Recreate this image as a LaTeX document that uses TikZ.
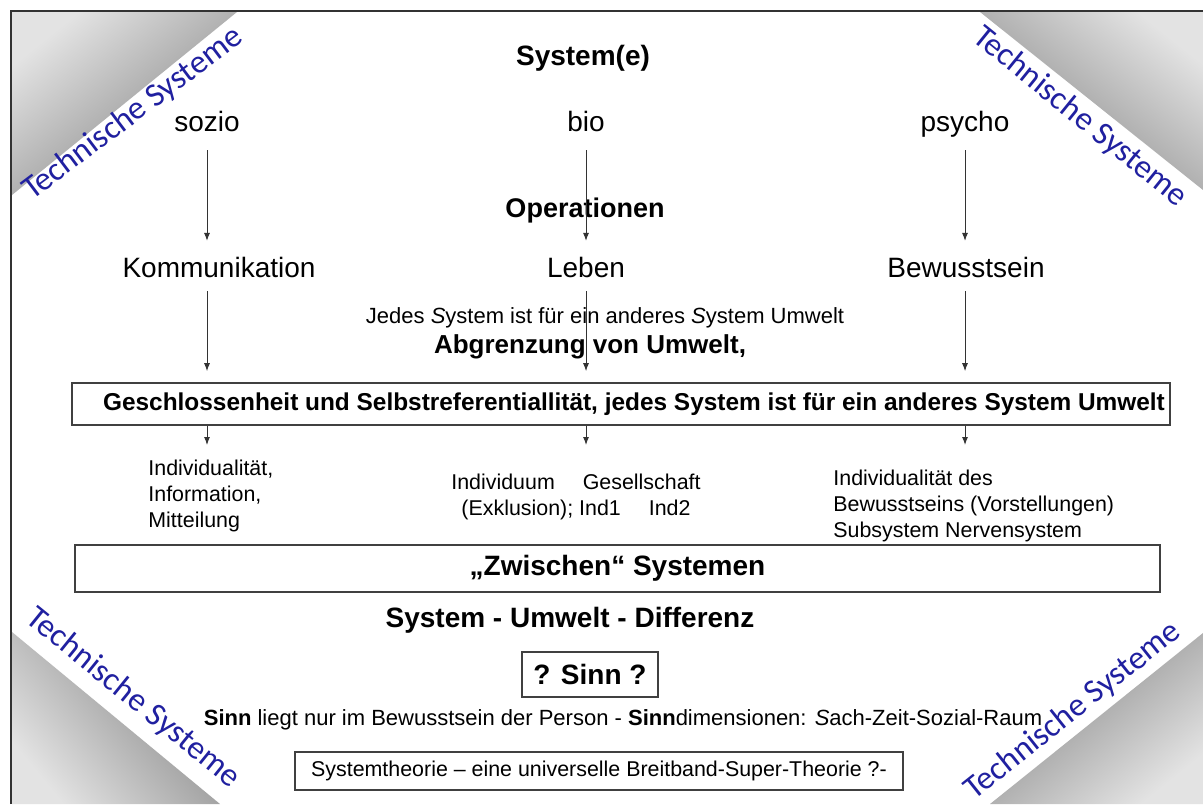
\documentclass[tikz,border=0pt]{standalone}
\usepackage{fontspec}
\setmainfont{Liberation Sans}
\newfontfamily\techfont{Carlito}
\usetikzlibrary{arrows.meta}
\definecolor{techblue}{RGB}{32,32,160}
\tikzset{
	colhead/.style={font=\fontsize{14}{16}\selectfont, text height=10pt, text depth=3pt},
	boldhead/.style={font=\fontsize{14}{16}\selectfont\bfseries},
	smalltext/.style={font=\fontsize{10.7}{13}\selectfont, inner sep=0pt},
	framebox/.style={draw=black!75, line width=0.8pt, fill=white},
	techlabel/.style={font=\fontsize{16.5}{18}\selectfont\techfont, text=techblue},
	conn/.style={->, draw=black!80, line width=0.5pt}
}
\begin{document}
\begin{tikzpicture}[x=0.5pt,y=-0.5pt,>={Latex[length=4pt,width=3pt]}]
	\def \colA {207}
	\def \colB {586}
	\def \colC {965}
	\useasboundingbox (0,0) rectangle (1203,804);
	\fill[white] (0,0) rectangle (1203,804);
	
	% shaded corners
	\foreach \cx/\cy/\ax/\ay/\bx/\by/\ang in {12/12/237/12/12/195/39, 1203/12/980/12/1203/190/-38.6, 12/804/12/632/220/804/129.6, 1203/804/1203/633/990/804/-141.2}
	{
		\shade[top color=gray!22, middle color=gray!100, bottom color=gray!100, shading angle=\ang] (\cx,\cy) -- (\ax,\ay) -- (\bx,\by) -- cycle;
	}
	\draw[line width=1pt, black!80] (11,804) -- (11,11) -- (1203,11);
	
	\node[techlabel, rotate=37] (tsA) at (133,114) {Technische Systeme};
	\node[techlabel, rotate=-39] (tsB) at (1080,117) {Technische Systeme};
	\node[techlabel, rotate=-39] (tsC) at (133,698) {Technische Systeme};
	\node[techlabel, rotate=38.5] (tsD) at (1073,711) {Technische Systeme};
	
	% systems and operations
	\node[boldhead] (sys) at (583,58) {System(e)};
	\node[colhead] (sozio) at (\colA,124) {sozio};
	\node[colhead] (bio) at (\colB,124) {bio};
	\node[colhead] (psycho) at (\colC,124) {psycho};
	\node[boldhead, font=\fontsize{13.5}{16}\selectfont\bfseries] (oper) at (585,211) {Operationen};
	\node[colhead] (komm) at (219,270) {Kommunikation};
	\node[colhead] (leben) at (\colB,270) {Leben};
	\node[colhead] (bewusst) at (966,270) {Bewusstsein};
	\node[font=\fontsize{11}{13}\selectfont] (jedes) at (605,318) {Jedes \textit{S}ystem ist für ein anderes \textit{S}ystem Umwelt};
	\node[font=\fontsize{13}{15}\selectfont\bfseries] (abgr) at (590,347) {Abgrenzung von Umwelt,};
	\node[framebox, minimum width=549pt, minimum height=21pt, inner sep=1pt, font=\fontsize{12.2}{14}\selectfont\bfseries] (geschl) at (621,404) {\hspace*{13pt}Geschlossenheit und Selbstreferentiallität, jedes System ist für ein anderes System Umwelt};
	
	\node[smalltext, anchor=west, align=left] (indivA) at (148,496) {Individualität,\\Information,\\Mitteilung};
	\node[smalltext, align=center] (indivB) at (576,497) {Individuum\hspace{14pt}Gesellschaft\\(Exklusion); Ind1\hspace{14pt}Ind2};
	\node[smalltext, anchor=west, align=left] (indivC) at (833,506) {Individualität des\\Bewusstseins (Vorstellungen)\\Subsystem Nervensystem};
	\coordinate (below) at (0,445);
	
	\foreach \top/\mid/\bot in {sozio/komm/indivA, bio/leben/indivB, psycho/bewusst/indivC}
	{
		\draw[conn, shorten <=3pt, shorten >=4.5pt] (\top.south) -- (\top |- \mid.north);
		\draw[conn, shorten <=0.5pt, shorten >=5.5pt] (\top |- \mid.south) -- (\top |- geschl.north);
		\draw[conn] (\top |- geschl.south) -- (\top |- below);
	}
	
	% lower part
	\node[framebox, boldhead, minimum width=542.5pt, minimum height=23.5pt] (zwischen) at (617.5,568.5) {„Zwischen“ Systemen};
	\node[boldhead] (diff) at (570,620) {System - Umwelt - Differenz};
	\node[framebox, boldhead, minimum width=68pt, minimum height=22.5pt] (sinn) at (590,674.5) {? Sinn ?};
	\node[font=\fontsize{11}{13}\selectfont] (sinnline) at (623,720) {\textbf{Sinn} liegt nur im Bewusstsein der Person - \textbf{Sinn}dimensionen: \textit{S}ach-Zeit-Sozial-Raum};
	\node[framebox, minimum width=304pt, minimum height=19pt, font=\fontsize{10.7}{12}\selectfont] (theorie) at (599,771) {Systemtheorie – eine universelle Breitband-Super-Theorie ?-};
\end{tikzpicture}
\end{document}
